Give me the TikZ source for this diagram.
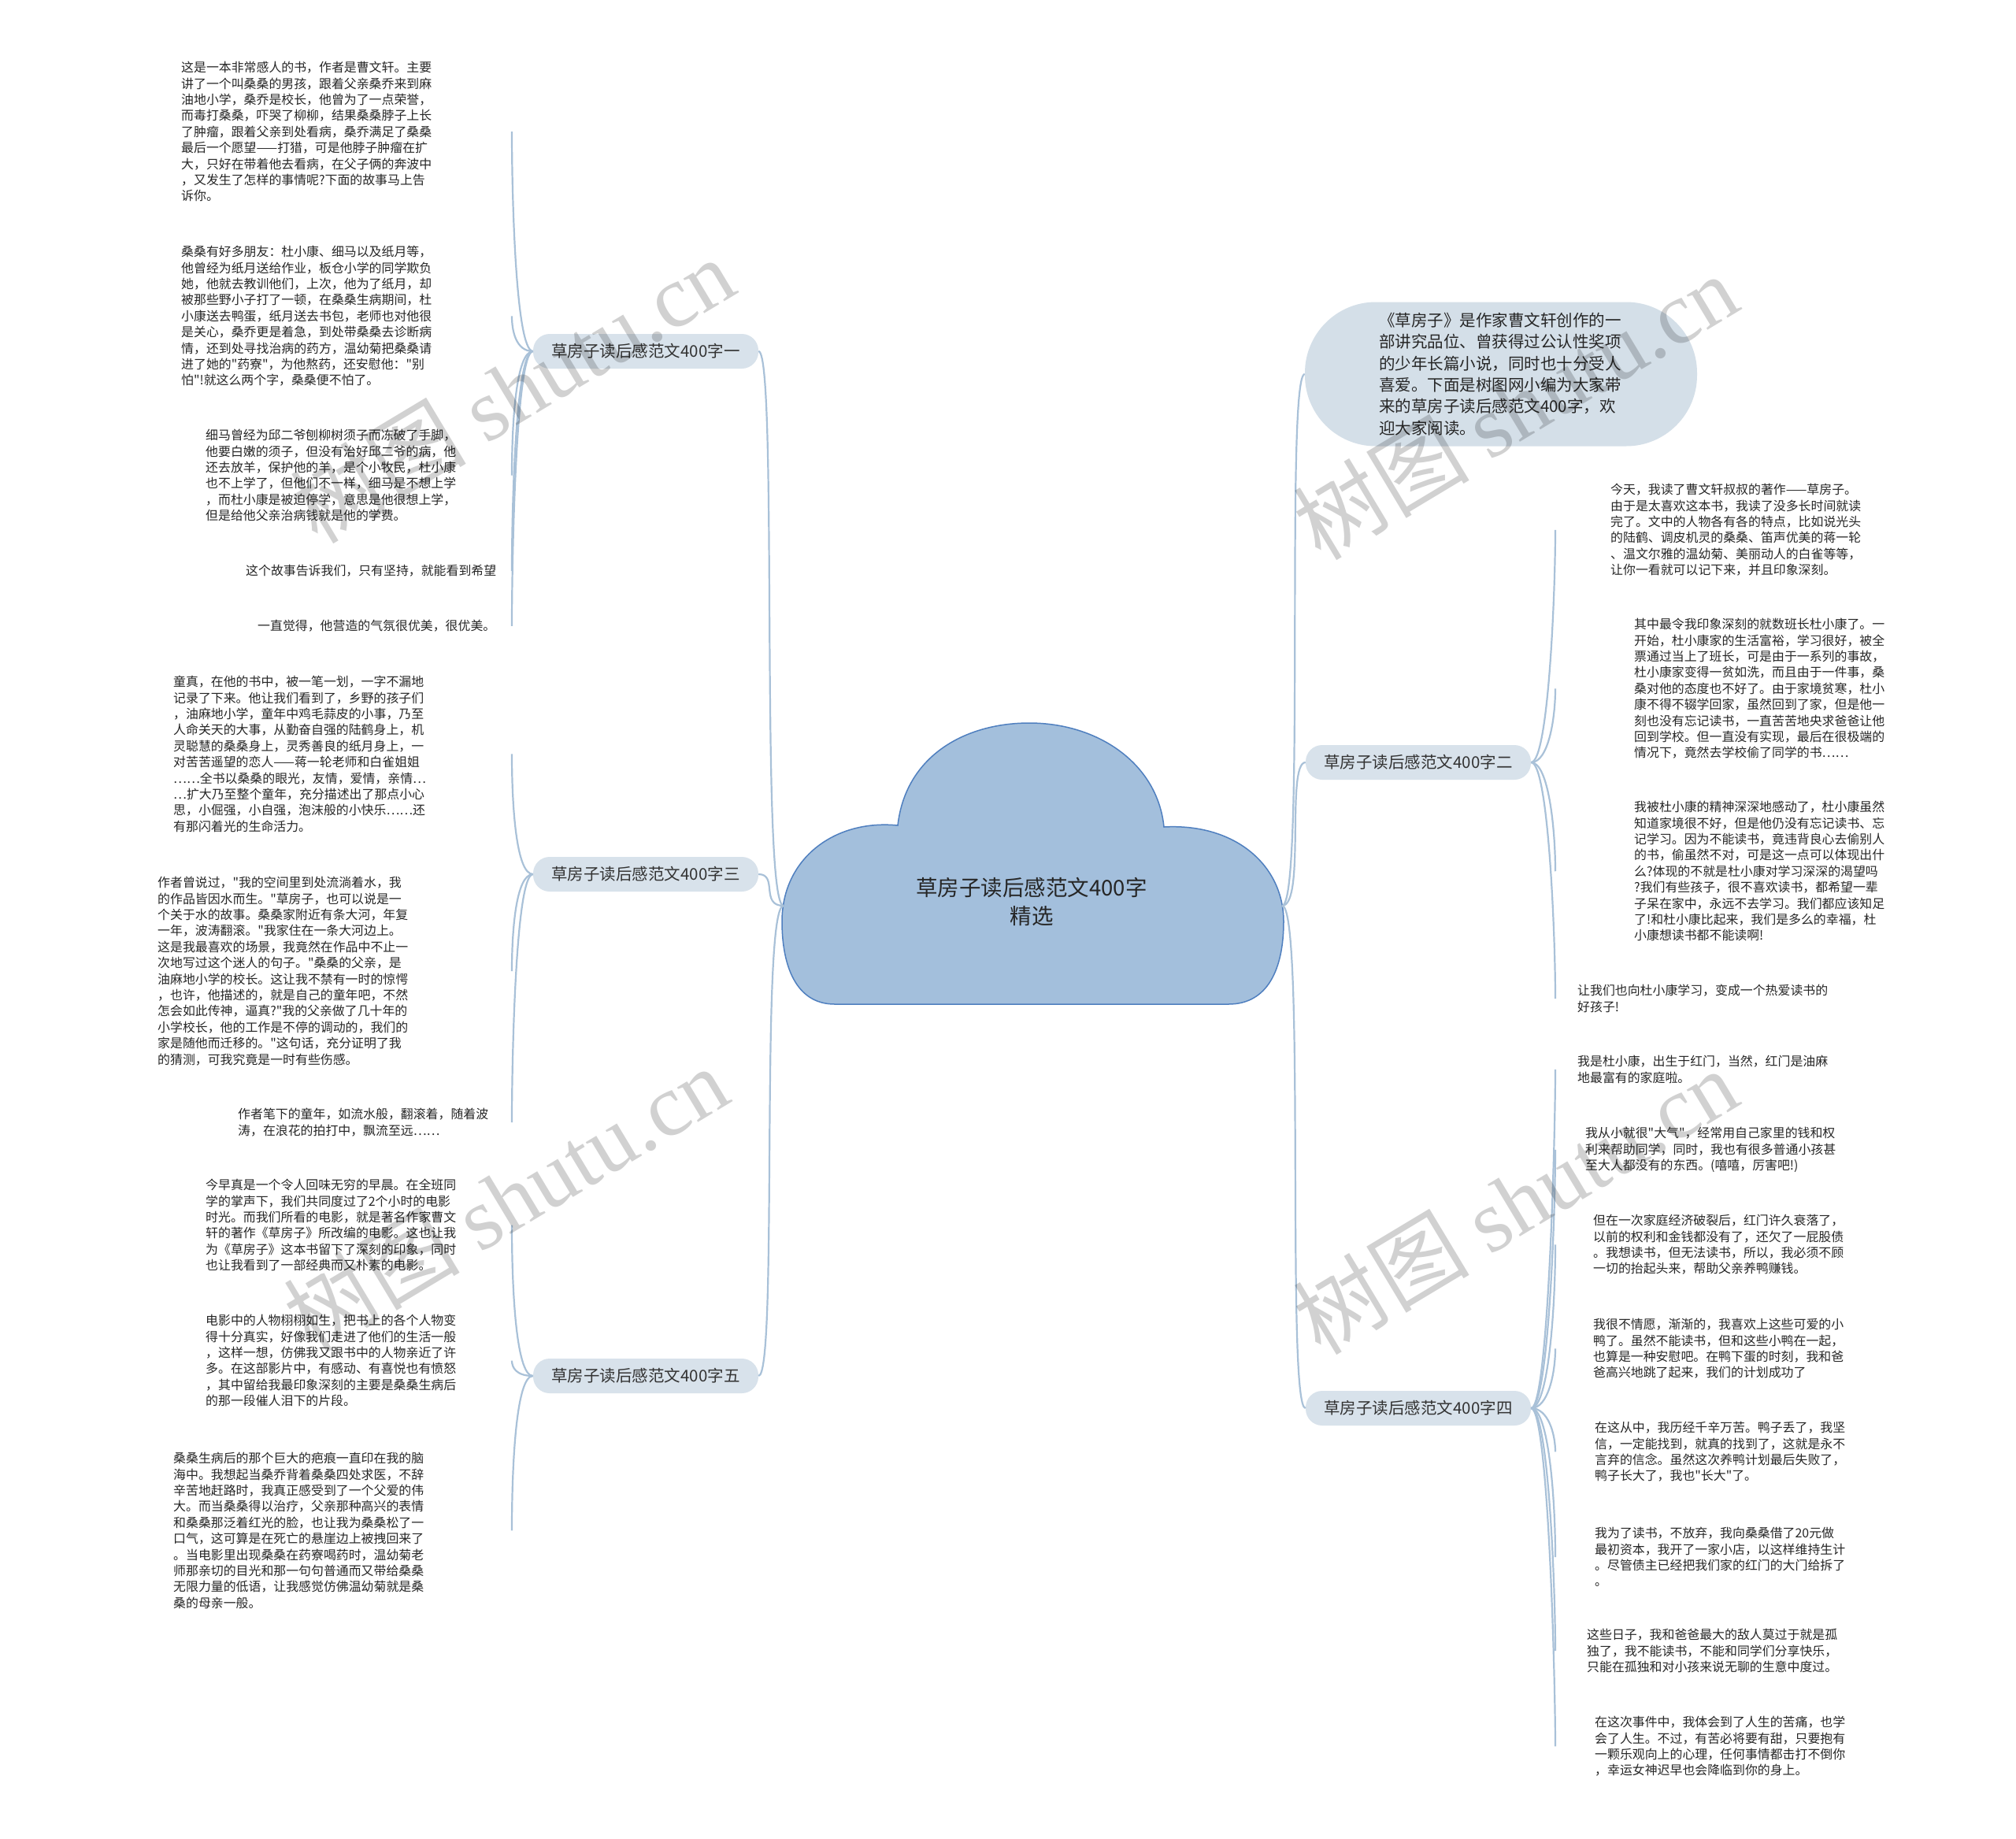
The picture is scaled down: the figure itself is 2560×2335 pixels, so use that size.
\documentclass[tikz,border=0pt]{standalone}
\usepackage{fontspec}
\newfontfamily\cjk{Noto Sans CJK SC}
\newfontfamily\wmserif{Liberation Serif}
\definecolor{linkblue}{HTML}{A9C1D8}
\definecolor{branchfill}{HTML}{D8E2EB}
\definecolor{introfill}{HTML}{D4DFE8}
\definecolor{cloudfill}{HTML}{A3BFDC}
\definecolor{cloudline}{HTML}{4F7FBF}

\begin{document}
\begin{tikzpicture}[x=1pt, y=-1pt,
    link/.style={draw=linkblue, line width=2.2pt},
    leaf/.style={anchor=north west, align=left, inner sep=0pt, text=black!85,
        font=\cjk\fontsize{15.9}{20.4}\selectfont},
    branch/.style={fill=branchfill, rounded corners=21pt, minimum height=44pt,
        minimum width=286pt, inner sep=0pt, text=black!80,
        font=\cjk\fontsize{20.5}{24}\selectfont},
    wmtext/.style={rotate=31, text=black, text opacity=0.18,
        font=\cjk\fontsize{112}{112}\selectfont}]

            \fill[white] (0,0) rectangle (2560,2335);
            \useasboundingbox (0,0) rectangle (2560,2335);

            % centre cloud
            \filldraw[fill=cloudfill, draw=cloudline, line width=1.5pt]
                (1060,1275) .. controls (1010,1275) and (993,1225) .. (993,1170)
                .. controls (993,1090) and (1060,1040) .. (1140,1048)
                .. controls (1150,960) and (1225,918) .. (1307,918)
                .. controls (1395,918) and (1470,970) .. (1478,1050)
                .. controls (1570,1045) and (1630,1100) .. (1630,1170)
                .. controls (1630,1230) and (1610,1275) .. (1560,1275) -- cycle;
            \node[align=center, text=black!85, font=\cjk\fontsize{27.5}{36}\selectfont] (title) at (1310,1145) {草房子读后感范文400字\\精选};
            \coordinate (cl) at (995,1150);
            \coordinate (cr) at (1628,1150);
            \coordinate (spL) at (650,0);
            \coordinate (spR) at (1975,0);

            % branches
            \node[branch] (b1) at (820,446) {草房子读后感范文400字一};
            \node[branch] (b3) at (820,1110) {草房子读后感范文400字三};
            \node[branch] (b5) at (820,1747) {草房子读后感范文400字五};
            \node[branch] (b2) at (1801,968) {草房子读后感范文400字二};
            \node[branch] (b4) at (1801,1788) {草房子读后感范文400字四};
            \node[fill=introfill, rounded corners=90pt, minimum height=183pt, text width=310pt,
                inner xsep=94pt, align=left, text=black!85,
                font=\cjk\fontsize{20.5}{27.4}\selectfont] (intro) at (1906,475)
                {《草房子》是作家曹文轩创作的一\\部讲究品位、曾获得过公认性奖项\\的少年长篇小说，同时也十分受人\\喜爱。下面是树图网小编为大家带\\来的草房子读后感范文400字，欢\\迎大家阅读。};

            % left leaves
            \node[leaf] (c1) at (230,78) {这是一本非常感人的书，作者是曹文轩。主要\\讲了一个叫桑桑的男孩，跟着父亲桑乔来到麻\\油地小学，桑乔是校长，他曾为了一点荣誉，\\而毒打桑桑，吓哭了柳柳，结果桑桑脖子上长\\了肿瘤，跟着父亲到处看病，桑乔满足了桑桑\\最后一个愿望——打猎，可是他脖子肿瘤在扩\\大，只好在带着他去看病，在父子俩的奔波中\\，又发生了怎样的事情呢?下面的故事马上告\\诉你。};
            \node[leaf] (c2) at (230,312) {桑桑有好多朋友：杜小康、细马以及纸月等，\\他曾经为纸月送给作业，板仓小学的同学欺负\\她，他就去教训他们，上次，他为了纸月，却\\被那些野小子打了一顿，在桑桑生病期间，杜\\小康送去鸭蛋，纸月送去书包，老师也对他很\\是关心，桑乔更是着急，到处带桑桑去诊断病\\情，还到处寻找治病的药方，温幼菊把桑桑请\\进了她的"药寮"，为他熬药，还安慰他："别\\怕"!就这么两个字，桑桑便不怕了。};
            \node[leaf] (c3) at (261,545) {细马曾经为邱二爷刨柳树须子而冻破了手脚，\\他要白嫩的须子，但没有治好邱二爷的病，他\\还去放羊，保护他的羊，是个小牧民，杜小康\\也不上学了，但他们不一样，细马是不想上学\\，而杜小康是被迫停学，意思是他很想上学，\\但是给他父亲治病钱就是他的学费。};
            \node[leaf] (c4) at (312,717) {这个故事告诉我们，只有坚持，就能看到希望};
            \node[leaf] (c5) at (327,787) {一直觉得，他营造的气氛很优美，很优美。};
            \node[leaf] (c6) at (220,858) {童真，在他的书中，被一笔一划，一字不漏地\\记录了下来。他让我们看到了，乡野的孩子们\\，油麻地小学，童年中鸡毛蒜皮的小事，乃至\\人命关天的大事，从勤奋自强的陆鹤身上，机\\灵聪慧的桑桑身上，灵秀善良的纸月身上，一\\对苦苦遥望的恋人——蒋一轮老师和白雀姐姐\\……全书以桑桑的眼光，友情，爱情，亲情…\\…扩大乃至整个童年，充分描述出了那点小心\\思，小倔强，小自强，泡沫般的小快乐……还\\有那闪着光的生命活力。};
            \node[leaf] (c7) at (200,1113) {作者曾说过，"我的空间里到处流淌着水，我\\的作品皆因水而生。"草房子，也可以说是一\\个关于水的故事。桑桑家附近有条大河，年复\\一年，波涛翻滚。"我家住在一条大河边上。\\这是我最喜欢的场景，我竟然在作品中不止一\\次地写过这个迷人的句子。"桑桑的父亲，是\\油麻地小学的校长。这让我不禁有一时的惊愕\\，也许，他描述的，就是自己的童年吧，不然\\怎会如此传神，逼真?"我的父亲做了几十年的\\小学校长，他的工作是不停的调动的，我们的\\家是随他而迁移的。"这句话，充分证明了我\\的猜测，可我究竟是一时有些伤感。};
            \node[leaf] (c8) at (302,1407) {作者笔下的童年，如流水般，翻滚着，随着波\\涛，在浪花的拍打中，飘流至远……};
            \node[leaf] (c9) at (261,1497) {今早真是一个令人回味无穷的早晨。在全班同\\学的掌声下，我们共同度过了2个小时的电影\\时光。而我们所看的电影，就是著名作家曹文\\轩的著作《草房子》所改编的电影。这也让我\\为《草房子》这本书留下了深刻的印象，同时\\也让我看到了一部经典而又朴素的电影。};
            \node[leaf] (c10) at (261,1669) {电影中的人物栩栩如生，把书上的各个人物变\\得十分真实，好像我们走进了他们的生活一般\\，这样一想，仿佛我又跟书中的人物亲近了许\\多。在这部影片中，有感动、有喜悦也有愤怒\\，其中留给我最印象深刻的主要是桑桑生病后\\的那一段催人泪下的片段。};
            \node[leaf] (c11) at (220,1844) {桑桑生病后的那个巨大的疤痕一直印在我的脑\\海中。我想起当桑乔背着桑桑四处求医，不辞\\辛苦地赶路时，我真正感受到了一个父爱的伟\\大。而当桑桑得以治疗，父亲那种高兴的表情\\和桑桑那泛着红光的脸，也让我为桑桑松了一\\口气，这可算是在死亡的悬崖边上被拽回来了\\。当电影里出现桑桑在药寮喝药时，温幼菊老\\师那亲切的目光和那一句句普通而又带给桑桑\\无限力量的低语，让我感觉仿佛温幼菊就是桑\\桑的母亲一般。};

            % right leaves
            \node[leaf] (c12) at (2045,614) {今天，我读了曹文轩叔叔的著作——草房子。\\由于是太喜欢这本书，我读了没多长时间就读\\完了。文中的人物各有各的特点，比如说光头\\的陆鹤、调皮机灵的桑桑、笛声优美的蒋一轮\\、温文尔雅的温幼菊、美丽动人的白雀等等，\\让你一看就可以记下来，并且印象深刻。};
            \node[leaf] (c13) at (2075,785) {其中最令我印象深刻的就数班长杜小康了。一\\开始，杜小康家的生活富裕，学习很好，被全\\票通过当上了班长，可是由于一系列的事故，\\杜小康家变得一贫如洗，而且由于一件事，桑\\桑对他的态度也不好了。由于家境贫寒，杜小\\康不得不辍学回家，虽然回到了家，但是他一\\刻也没有忘记读书，一直苦苦地央求爸爸让他\\回到学校。但一直没有实现，最后在很极端的\\情况下，竟然去学校偷了同学的书……};
            \node[leaf] (c14) at (2075,1017) {我被杜小康的精神深深地感动了，杜小康虽然\\知道家境很不好，但是他仍没有忘记读书、忘\\记学习。因为不能读书，竟违背良心去偷别人\\的书，偷虽然不对，可是这一点可以体现出什\\么?体现的不就是杜小康对学习深深的渴望吗\\?我们有些孩子，很不喜欢读书，都希望一辈\\子呆在家中，永远不去学习。我们都应该知足\\了!和杜小康比起来，我们是多么的幸福，杜\\小康想读书都不能读啊!};
            \node[leaf] (c15) at (2003,1250) {让我们也向杜小康学习，变成一个热爱读书的\\好孩子!};
            \node[leaf] (c16) at (2003,1340) {我是杜小康，出生于红门，当然，红门是油麻\\地最富有的家庭啦。};
            \node[leaf] (c17) at (2013,1431) {我从小就很"大气"，经常用自己家里的钱和权\\利来帮助同学，同时，我也有很多普通小孩甚\\至大人都没有的东西。(嘻嘻，厉害吧!)};
            \node[leaf] (c18) at (2023,1542) {但在一次家庭经济破裂后，红门许久衰落了，\\以前的权利和金钱都没有了，还欠了一屁股债\\。我想读书，但无法读书，所以，我必须不顾\\一切的抬起头来，帮助父亲养鸭赚钱。};
            \node[leaf] (c19) at (2023,1674) {我很不情愿，渐渐的，我喜欢上这些可爱的小\\鸭了。虽然不能读书，但和这些小鸭在一起，\\也算是一种安慰吧。在鸭下蛋的时刻，我和爸\\爸高兴地跳了起来，我们的计划成功了};
            \node[leaf] (c20) at (2025,1805) {在这从中，我历经千辛万苦。鸭子丢了，我坚\\信，一定能找到，就真的找到了，这就是永不\\言弃的信念。虽然这次养鸭计划最后失败了，\\鸭子长大了，我也"长大"了。};
            \node[leaf] (c21) at (2025,1939) {我为了读书，不放弃，我向桑桑借了20元做\\最初资本，我开了一家小店，以这样维持生计\\。尽管债主已经把我们家的红门的大门给拆了\\。};
            \node[leaf] (c22) at (2015,2068) {这些日子，我和爸爸最大的敌人莫过于就是孤\\独了，我不能读书，不能和同学们分享快乐，\\只能在孤独和对小孩来说无聊的生意中度过。};
            \node[leaf] (c23) at (2025,2179) {在这次事件中，我体会到了人生的苦痛，也学\\会了人生。不过，有苦必将要有甜，只要抱有\\一颗乐观向上的心理，任何事情都击打不倒你\\，幸运女神迟早也会降临到你的身上。};

            % connectors from the cloud
            \draw[link] (cl) .. controls +(-30,0) and +(25,0) .. (b1.east);
            \draw[link] (cl) .. controls +(-30,0) and +(25,0) .. (b3.east);
            \draw[link] (cl) .. controls +(-30,0) and +(25,0) .. (b5.east);
            \draw[link] (cr) .. controls +(30,0) and +(-25,0) .. (intro.west);
            \draw[link] (cr) .. controls +(30,0) and +(-25,0) .. (b2.west);
            \draw[link] (cr) .. controls +(30,0) and +(-25,0) .. (b4.west);

            % connectors to the leaves
            \draw[link] (b1.west) .. controls +(-22,0) and +(0,80) .. (spL |- c1);
            \draw[link] (b1.west) .. controls +(-22,0) and +(0,18) .. (spL |- c2);
            \draw[link] (b1.west) .. controls +(-22,0) and +(0,-63) .. (spL |- c3);
            \draw[link] (b1.west) .. controls +(-22,0) and +(0,-80) .. (spL |- c4);
            \draw[link] (b1.west) .. controls +(-22,0) and +(0,-80) .. (spL |- c5);
            \draw[link] (b3.west) .. controls +(-22,0) and +(0,61) .. (spL |- c6);
            \draw[link] (b3.west) .. controls +(-22,0) and +(0,-49) .. (spL |- c7);
            \draw[link] (b3.west) .. controls +(-22,0) and +(0,-80) .. (spL |- c8);
            \draw[link] (b5.west) .. controls +(-22,0) and +(0,77) .. (spL |- c9);
            \draw[link] (b5.west) .. controls +(-22,0) and +(0,8) .. (spL |- c10);
            \draw[link] (b5.west) .. controls +(-22,0) and +(0,-78) .. (spL |- c11);
            \draw[link] (b2.east) .. controls +(22,0) and +(0,80) .. (spR |- c12);
            \draw[link] (b2.east) .. controls +(22,0) and +(0,38) .. (spR |- c13);
            \draw[link] (b2.east) .. controls +(22,0) and +(0,-55) .. (spR |- c14);
            \draw[link] (b2.east) .. controls +(22,0) and +(0,-80) .. (spR |- c15);
            \draw[link] (b4.east) .. controls +(22,0) and +(0,80) .. (spR |- c16);
            \draw[link] (b4.east) .. controls +(22,0) and +(0,80) .. (spR |- c17);
            \draw[link] (b4.east) .. controls +(22,0) and +(0,80) .. (spR |- c18);
            \draw[link] (b4.east) .. controls +(22,0) and +(0,30) .. (spR |- c19);
            \draw[link] (b4.east) .. controls +(22,0) and +(0,-22) .. (spR |- c20);
            \draw[link] (b4.east) .. controls +(22,0) and +(0,-76) .. (spR |- c21);
            \draw[link] (b4.east) .. controls +(22,0) and +(0,-80) .. (spR |- c22);
            \draw[link] (b4.east) .. controls +(22,0) and +(0,-80) .. (spR |- c23);

            % watermarks
            \node[wmtext] (wm1) at (650,495) {树图 {\wmserif shutu.cn}};
            \node[wmtext] (wm2) at (642,1522) {树图 {\wmserif shutu.cn}};
            \node[wmtext] (wm3) at (1924,516) {树图 {\wmserif shutu.cn}};
            \node[wmtext] (wm4) at (1924,1525) {树图 {\wmserif shutu.cn}};

        \end{tikzpicture}
\end{document}
